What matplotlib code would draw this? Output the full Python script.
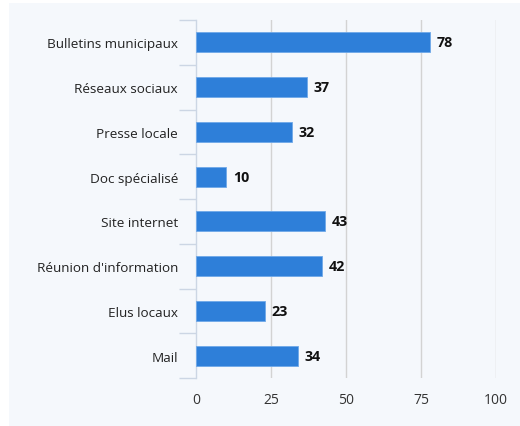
import matplotlib
matplotlib.use("Agg")
from matplotlib import pyplot as plt
from matplotlib.patches import Rectangle
import numpy as np

categories = ["Bulletins municipaux", "Réseaux sociaux", "Presse locale", "Doc spécialisé",
              "Site internet", "Réunion d'information", "Elus locaux", "Mail"]
values = [78, 37, 32, 10, 43, 42, 23, 34]
x_ticks = [0, 25, 50, 75, 100]

plt.rcParams['font.family'] = ['Open Sans', 'DejaVu Sans']

fig = plt.figure(figsize=(5.2, 4.27), dpi=100)
fig.patch.set_facecolor("white")
# light panel behind the chart
fig.patches.append(Rectangle((9 / 520, 0), 1, 1 - 4 / 427, transform=fig.transFigure,
                             facecolor="#f5f8fc", edgecolor="none", zorder=-10))

ax = fig.add_axes([196 / 520, 1 - 379 / 427, 300 / 520, 358 / 427])
ax.set_facecolor("none")

y = np.arange(len(categories))
bars = ax.barh(y, values, height=0.45, color="#2e7fd9", edgecolor="#6fa8e8", linewidth=0.6, zorder=3)
for yi, v in zip(y, values):
    ax.text(v + 2.3, yi, str(v), va="center", ha="left", fontsize=10.3, fontweight="bold", color="#111111")

ax.set_ylim(len(categories) - 0.5, -0.5)
ax.set_xlim(0, 100)
ax.set_xticks(x_ticks)
ax.set_xticklabels([str(t) for t in x_ticks], fontsize=10, color="#333333")
ax.set_yticks(y)
ax.set_yticklabels(categories, fontsize=9.7, color="#222222")
ax.set_yticks(np.arange(len(categories) + 1) - 0.5, minor=True)

ax.tick_params(axis="y", which="major", length=0, pad=13)
ax.tick_params(axis="y", which="minor", length=12, color="#ccd6e4", width=1)
ax.tick_params(axis="x", length=0, pad=10)

for t in x_ticks[1:]:
    ax.axvline(t, color="#d3d3d3", linewidth=1, zorder=1)

for s in ["top", "right", "bottom"]:
    ax.spines[s].set_visible(False)
ax.spines["left"].set_color("#ccd6e4")
ax.spines["left"].set_linewidth(1)

fig.savefig("out.png", dpi=100)
